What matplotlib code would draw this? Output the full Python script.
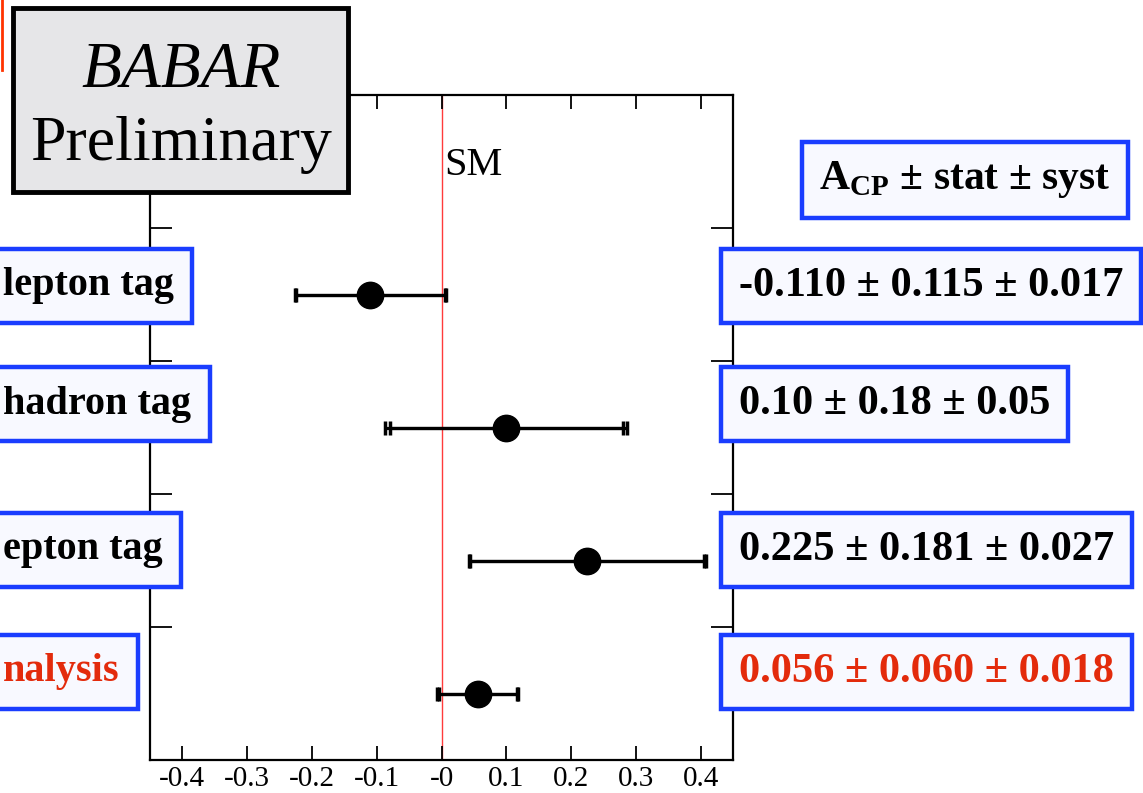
import matplotlib
matplotlib.use('Agg')
import matplotlib.pyplot as plt
import matplotlib.patches as mpatches
from matplotlib.lines import Line2D

plt.rcParams['font.family'] = ['Liberation Serif', 'DejaVu Serif']
plt.rcParams['mathtext.fontset'] = 'custom'
plt.rcParams['mathtext.rm'] = 'Liberation Serif'
plt.rcParams['mathtext.bf'] = 'Liberation Serif:bold'

# measurements (top to bottom)
labels = ['lepton tag', 'hadron tag', 'epton tag', 'nalysis']
acp = [-0.110, 0.10, 0.225, 0.056]
stat = [0.115, 0.18, 0.181, 0.060]
syst = [0.017, 0.05, 0.027, 0.018]
value_text = ['-0.110 ± 0.115 ± 0.017', '0.10 ± 0.18 ± 0.05',
              '0.225 ± 0.181 ± 0.027', '0.056 ± 0.060 ± 0.018']
xticks = [-0.4, -0.3, -0.2, -0.1, 0.0, 0.1, 0.2, 0.3, 0.4]
xtick_labels = ['-0.4', '-0.3', '-0.2', '-0.1', '-0', '0.1', '0.2', '0.3', '0.4']

W, H = 1143, 793
blue = '#1a3dff'
red = '#e32b0c'
boxface = '#f8f9ff'

fig = plt.figure(figsize=(W / 100, H / 100), dpi=100)
ax = fig.add_axes([150 / W, 1 - 760 / H, 583 / W, 665 / H])


def px(x, y):
    return x / W, 1 - y / H


ypos = [1.5, 2.5, 3.5, 4.5]
total = [(s ** 2 + t ** 2) ** 0.5 for s, t in zip(stat, syst)]

# SM line
ax.axvline(0, color='#ff3b3b', lw=1.0, zorder=1)

# total and stat error bars
ax.errorbar(acp, ypos, xerr=total, fmt='none', ecolor='black', elinewidth=2.3,
            capsize=5, capthick=2.5, zorder=3)
ax.errorbar(acp, ypos, xerr=stat, fmt='o', color='black', ms=19,
            ecolor='black', elinewidth=2.3, capsize=5, capthick=2.5, zorder=4)

ax.set_xlim(-0.45, 0.45)
ax.set_ylim(5, 0)
ax.set_xticks(xticks)
ax.set_xticklabels(xtick_labels, fontsize=21)
ax.set_yticks([1, 2, 3, 4])
ax.set_yticklabels([])
ax.tick_params(axis='x', direction='in', length=10, width=1.3, top=True, pad=4)
ax.tick_params(axis='y', direction='in', length=16, width=1.3, right=True)
for sp in ax.spines.values():
    sp.set_linewidth(1.6)

fig.text(*px(444, 175), 'SM', fontsize=29, ha='left', va='baseline')

# BABAR box
fig.patches.append(mpatches.Rectangle(px(13, 192), 335 / W, 184 / H,
                                      transform=fig.transFigure,
                                      facecolor='#e6e6e8', edgecolor='black',
                                      lw=3.5, zorder=5))
fig.text(*px(181, 87), 'BABAR', fontsize=47, style='italic', ha='center',
         va='baseline', zorder=6)
fig.text(*px(181, 160), 'Preliminary', fontsize=46, ha='center',
         va='baseline', zorder=6)

# red edge at top left
fig.add_artist(Line2D([1.5 / W, 1.5 / W], [1 - 70 / H, 1], color='#ff3300',
                      lw=2.0, transform=fig.transFigure))


def box(pad=0.42):
    return dict(boxstyle='square,pad=%g' % pad, facecolor=boxface,
                edgecolor=blue, lw=3.2)


fig.text(*px(965, 180), r'$\mathbf{A}_{\mathbf{CP}}$ ± stat ± syst',
         fontsize=30, fontweight='bold', ha='center', va='center',
         bbox=box(), zorder=6)

row_y = [286, 404, 550, 672]
for i in range(4):
    c = red if i == 3 else 'black'
    fig.text(*px(3, row_y[i]), labels[i], fontsize=29,
             fontweight='bold', color=c, ha='left', va='center',
             bbox=box(0.46), zorder=6)
    fig.text(*px(739, row_y[i]), value_text[i], fontsize=30.5,
             fontweight='bold', color=c, ha='left', va='center',
             bbox=box(), zorder=6)

fig.savefig('out.png', dpi=100)
